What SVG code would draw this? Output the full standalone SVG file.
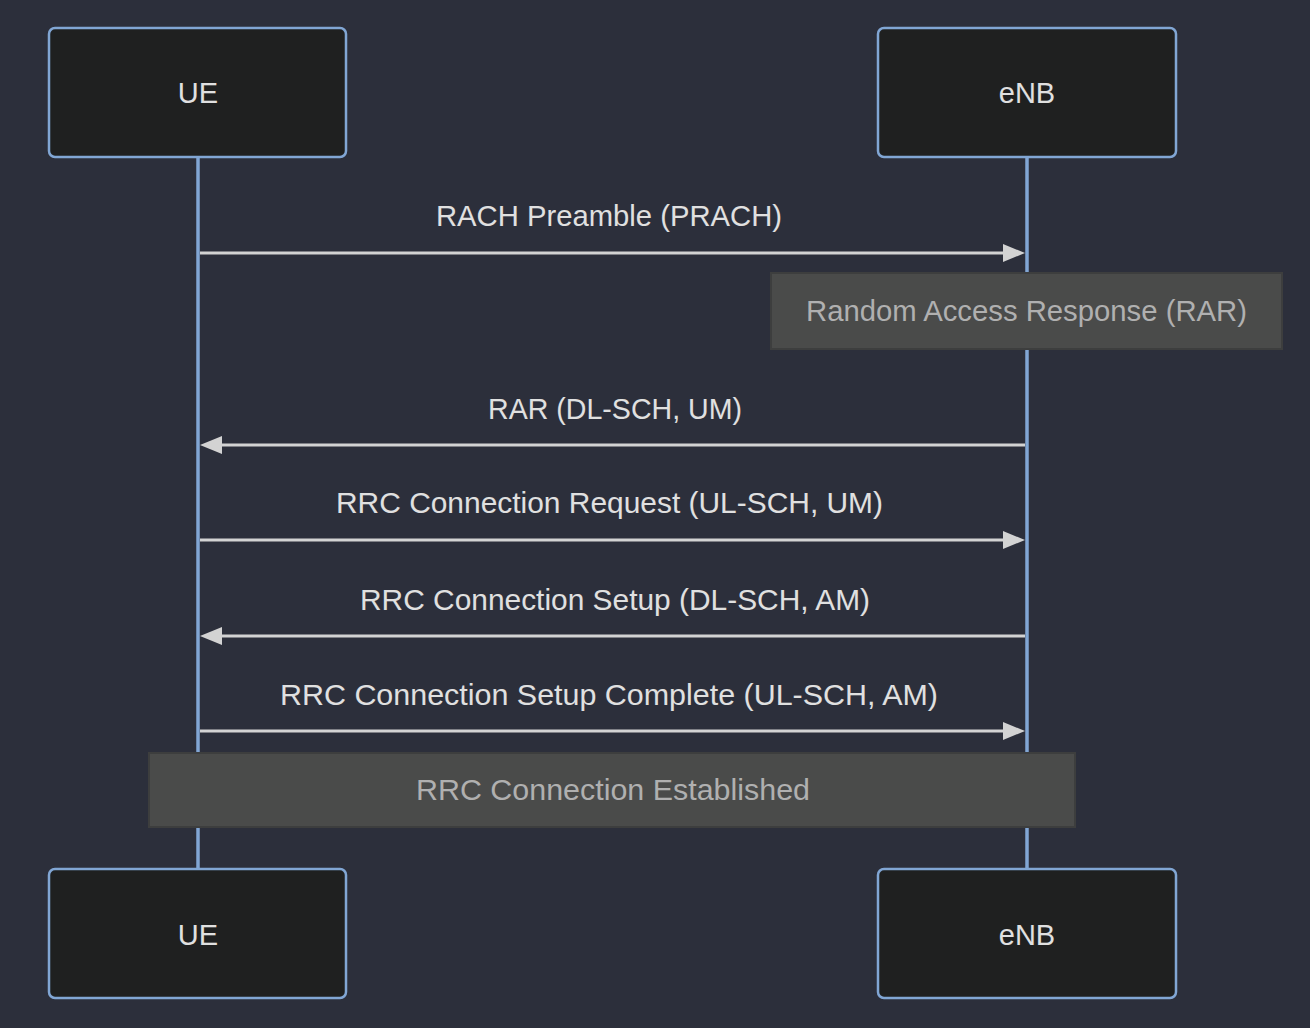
<svg xmlns="http://www.w3.org/2000/svg" width="1310" height="1028" viewBox="0 0 1310 1028">
<style>
.actor rect{fill:#1f2020;stroke:#81a6d4;stroke-width:2.5}
.actor text,.msg text{font-family:"Liberation Sans",Arial,sans-serif;font-size:29px;fill:#e0e0e0;text-anchor:middle;dominant-baseline:central}
.life{stroke:#81a6d4;stroke-width:3.5}
.msg line{stroke:#d3d3d3;stroke-width:3}
.arr{fill:#d3d3d3}
.note rect{fill:#4a4b4a;stroke:#3d3e3e;stroke-width:2}
.note text{font-family:"Liberation Sans",Arial,sans-serif;font-size:29px;fill:#b0b0b0;text-anchor:middle;dominant-baseline:central}
</style>
<rect width="1310" height="1028" fill="#2c2f3b"/>
<g id="lifelines">
<line class="life" x1="198" y1="157" x2="198" y2="869"/>
<line class="life" x1="1027" y1="157" x2="1027" y2="869"/>
</g>
<g id="actor-ue-top" class="actor"><rect x="49" y="28" width="297" height="129" rx="6"/><text x="198" y="93">UE</text></g>
<g id="actor-enb-top" class="actor"><rect x="878" y="28" width="298" height="129" rx="6"/><text x="1027" y="93">eNB</text></g>
<g id="actor-ue-bottom" class="actor"><rect x="49" y="869" width="297" height="129" rx="6"/><text x="198" y="935">UE</text></g>
<g id="actor-enb-bottom" class="actor"><rect x="878" y="869" width="298" height="129" rx="6"/><text x="1027" y="935">eNB</text></g>
<g id="connectors" class="msg">
<text x="609" y="216" textLength="346" lengthAdjust="spacingAndGlyphs">RACH Preamble (PRACH)</text>
<line x1="200" y1="253" x2="1005" y2="253"/>
<path class="arr" d="M1003,244 L1025,253 L1003,262 Z"/>
<text x="615" y="409" textLength="254" lengthAdjust="spacingAndGlyphs">RAR (DL-SCH, UM)</text>
<line x1="220" y1="445" x2="1025" y2="445"/>
<path class="arr" d="M222,436 L200,445 L222,454 Z"/>
<text x="609.5" y="503" textLength="547" lengthAdjust="spacingAndGlyphs">RRC Connection Request (UL-SCH, UM)</text>
<line x1="200" y1="540" x2="1005" y2="540"/>
<path class="arr" d="M1003,531 L1025,540 L1003,549 Z"/>
<text x="615" y="600" textLength="510" lengthAdjust="spacingAndGlyphs">RRC Connection Setup (DL-SCH, AM)</text>
<line x1="220" y1="636" x2="1025" y2="636"/>
<path class="arr" d="M222,627 L200,636 L222,645 Z"/>
<text x="609" y="695" textLength="658" lengthAdjust="spacingAndGlyphs">RRC Connection Setup Complete (UL-SCH, AM)</text>
<line x1="200" y1="731" x2="1005" y2="731"/>
<path class="arr" d="M1003,722 L1025,731 L1003,740 Z"/>
</g>
<g id="note-rar" class="note"><rect x="771" y="273" width="511" height="76"/><text x="1026.5" y="311" textLength="441" lengthAdjust="spacingAndGlyphs">Random Access Response (RAR)</text></g>
<g id="note-established" class="note"><rect x="149" y="753" width="926" height="74"/><text x="613" y="790" textLength="394" lengthAdjust="spacingAndGlyphs">RRC Connection Established</text></g>
</svg>
